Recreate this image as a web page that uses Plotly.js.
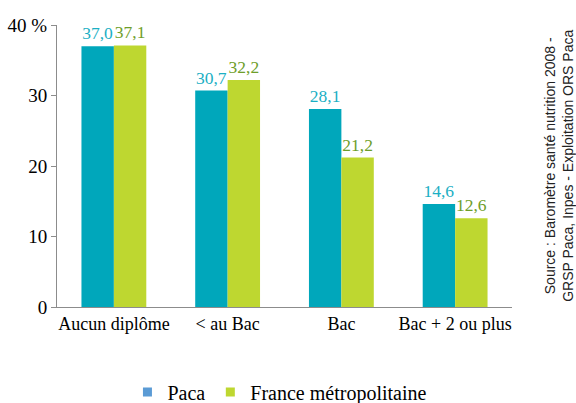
<!DOCTYPE html>
<html><head><meta charset="utf-8">
<script src="https://cdn.plot.ly/plotly-3.0.1.min.js"></script>
<style>html,body{margin:0;padding:0;background:#fff}#chart{width:576px;height:403px}</style>
</head><body><div id="chart"></div>
<script>
const categories = ["Aucun diplôme", "< au Bac", "Bac", "Bac + 2 ou plus"];
const pacaValues = [37.0, 30.7, 28.1, 14.6];
const franceValues = [37.1, 32.2, 21.2, 12.6];
const seriesNames = ["Paca", "France métropolitaine"];
const yTickVals = [0, 10, 20, 30, 40];
const yTickText = ["0", "10", "20", "30", "40 %"];
const sourceText = "Source : Baromètre santé nutrition 2008 -<br>GRSP Paca, Inpes - Exploitation ORS Paca";

const fmt = v => v.toFixed(1).replace('.', ',');
const serif = "Liberation Serif";

const data = [
  {type:'bar', x:categories, y:pacaValues, name:seriesNames[0], showlegend:false,
   marker:{color:'#00A7BB'}, text:pacaValues.map(fmt), textposition:'outside', constraintext:'none',
   textfont:{family:serif, size:17.5, color:'#1BAFC4'}, cliponaxis:false, hoverinfo:'skip'},
  {type:'bar', x:categories, y:franceValues, name:seriesNames[1], showlegend:false,
   marker:{color:'#BED730'}, text:franceValues.map(fmt), textposition:'outside', constraintext:'none',
   textfont:{family:serif, size:17.5, color:'#6E9E2A'}, cliponaxis:false, hoverinfo:'skip'},
  {type:'scatter', mode:'markers', x:[null], y:[null], name:seriesNames[0],
   marker:{color:'#5B9BD5', symbol:'square', size:9}, showlegend:true},
  {type:'scatter', mode:'markers', x:[null], y:[null], name:seriesNames[1],
   marker:{color:'#BED730', symbol:'square', size:9}, showlegend:true}
];

const layout = {
  width:576, height:403,
  margin:{l:57, r:64, t:25, b:96, autoexpand:false},
  paper_bgcolor:'#fff', plot_bgcolor:'#fff',
  barmode:'group', bargap:0.43, bargroupgap:0,
  font:{family:serif, size:16, color:'#000'},
  xaxis:{type:'category', showline:true, linecolor:'#8c8c8c', linewidth:1, ticks:'', showgrid:false,
         tickfont:{family:serif, size:18, color:'#000'}, fixedrange:true},
  yaxis:{range:[0,40], tickvals:yTickVals, ticktext:yTickText, showline:true,
         linecolor:'#8c8c8c', linewidth:1, ticks:'outside', ticklen:5, tickcolor:'#8c8c8c',
         showgrid:false, zeroline:false, tickfont:{family:serif, size:19, color:'#000'}, fixedrange:true},
  showlegend:true,
  legend:{orientation:'h', x:0.49, xanchor:'center', yref:'container', y:0.027, yanchor:'middle',
          font:{family:serif, size:20, color:'#000'}, traceorder:'normal', itemwidth:30},
  annotations:[{text:sourceText, xref:'paper', yref:'paper', x:1.103, y:0.5,
    xanchor:'center', yanchor:'middle', textangle:-90, showarrow:false, align:'center',
    font:{family:'Liberation Sans, Arial, sans-serif', size:14, color:'#222'}}]
};

Plotly.newPlot('chart', data, layout, {displayModeBar:false, staticPlot:true});
</script></body></html>
